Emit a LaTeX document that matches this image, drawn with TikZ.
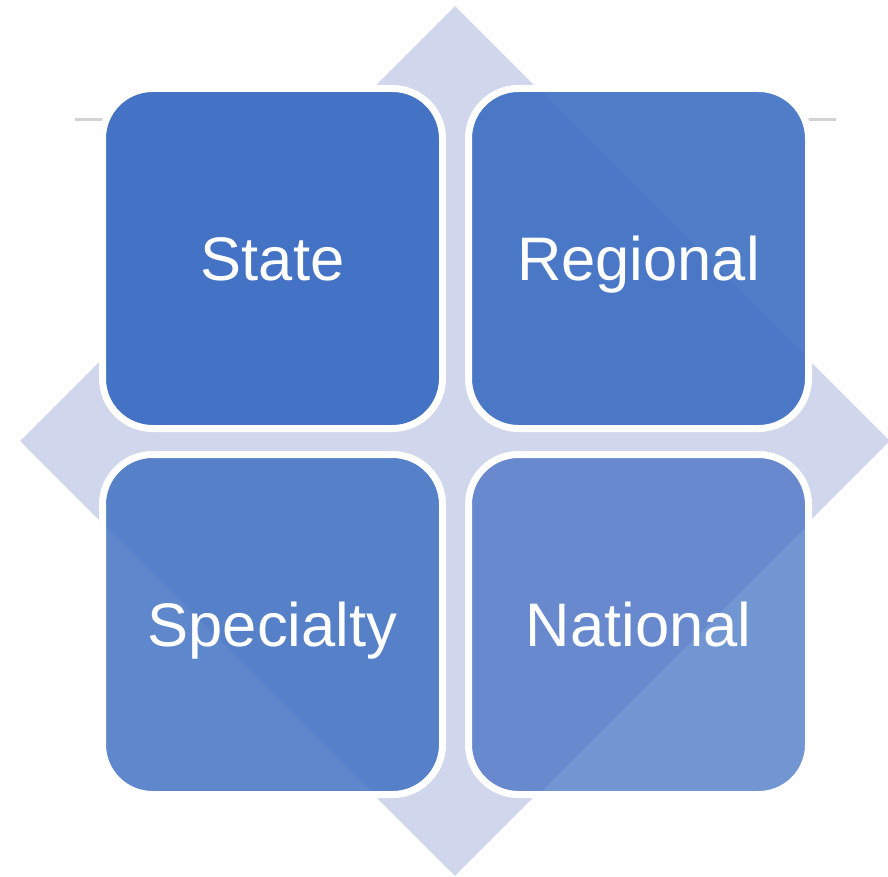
\documentclass[tikz,border=0pt]{standalone}
\usepackage{fontspec}
\setmainfont{Liberation Sans}
\usetikzlibrary{shapes.geometric,positioning}
\definecolor{backfill}{HTML}{D0D6EB}
\definecolor{rulegray}{HTML}{D3D3D3}
\definecolor{stateblue}{HTML}{4472C4}
\definecolor{regionblue}{HTML}{4A78C6}
\definecolor{regionglint}{HTML}{4F7DC8}
\definecolor{specblue}{HTML}{5680C8}
\definecolor{specglint}{HTML}{5F88CC}
\definecolor{natblue}{HTML}{6889CE}
\definecolor{natglint}{HTML}{7296D1}
\tikzset{
    cell/.style={rectangle, rounded corners=50pt, draw=white, line width=7pt, minimum width=340pt, minimum height=340pt, inner sep=0pt, text=white, font=\fontsize{61.5}{72}\selectfont, text height=44pt, text depth=0pt},
    glint/.style={sharp corners, draw=none},
    backdrop/.style={diamond, fill=backfill, minimum width=870pt, minimum height=870pt, inner sep=0pt},
    rule/.style={draw=rulegray, line width=3pt}
}
\begin{document}
\begin{tikzpicture}[x=1pt, y=-1pt, node distance=366pt]
    \useasboundingbox (0,0) rectangle (888,877);
    % thin rule behind everything
    \coordinate (ruleL) at (75,120);
    \coordinate (ruleR) at (836,120);
    \path [rule] (ruleL) -- (ruleR);
    \node [backdrop] (back) at (455,441) {};

    \node [cell, fill=stateblue] (state) at (272.5,258.5) {State};
    \node [cell, fill=regionblue, right of=state,
        path picture={\fill[glint, regionglint] ([xshift=70pt]path picture bounding box.north west) -- ([shift={(20pt,20pt)}]path picture bounding box.north east) -- ([yshift=-270pt]path picture bounding box.north east) -- cycle;}] (regional) {Regional};
    \node [cell, fill=specblue, below of=state,
        path picture={\fill[glint, specglint] ([yshift=-68pt]path picture bounding box.north west) -- ([xshift=272pt]path picture bounding box.south west) -- ([shift={(-20pt,-20pt)}]path picture bounding box.south west) -- cycle;}] (specialty) {Specialty};
    \node [cell, fill=natblue, right of=specialty,
        path picture={\fill[glint, natglint] ([xshift=70pt]path picture bounding box.south west) -- ([shift={(20pt,-20pt)}]path picture bounding box.south east) -- ([yshift=-70pt]path picture bounding box.north east) -- cycle;}] (national) {National};
\end{tikzpicture}
\end{document}
